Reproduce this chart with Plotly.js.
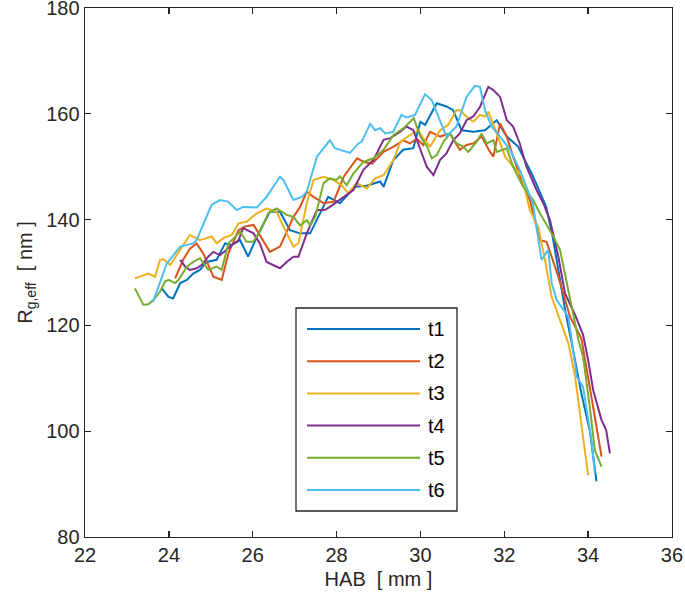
<!DOCTYPE html>
<html>
<head>
<meta charset="utf-8">
<script src="https://cdn.plot.ly/plotly-3.0.1.min.js"></script>
<style>html,body{margin:0;padding:0;background:#fff;}#chart{width:685px;height:605px;}</style>
</head>
<body>
<div id="chart"></div>
<script>
// ---- data (HAB in mm, R_g,eff in nm) ----
const seriesNames = ["t1", "t2", "t3", "t4", "t5", "t6"];
const seriesColors = ["#0072BD", "#D95319", "#EDB120", "#7E2F8E", "#77AC30", "#4DBEEE"];

const t1_x = [23.83,23.99,24.1,24.27,24.43,24.58,24.74,24.9,25.14,25.34,25.5,25.7,25.89,26.1,26.41,26.65,26.89,27.13,27.37,27.6,27.8,28.08,28.44,28.72,29.04,29.12,29.35,29.59,29.83,30.0,30.11,30.39,30.62,30.78,30.98,31.26,31.54,31.82,32.06,32.33,32.69,33.0,33.15,33.3,33.45,33.65,33.84,34.04,34.2];
const t1_y = [127.0,125.4,125.1,128.0,128.6,129.8,130.5,132.0,132.4,135.5,135.2,136.1,133.0,136.8,141.5,141.5,138.0,137.4,137.4,141.2,144.3,143.1,146.2,146.4,147.2,146.2,151.2,153.2,153.5,158.5,157.9,162.0,161.4,160.7,156.9,156.6,156.9,158.8,155.7,153.8,148.1,142.4,137.0,130.0,123.0,115.0,107.1,100.1,90.5];

const t2_x = [24.15,24.34,24.5,24.66,24.82,25.06,25.26,25.42,25.66,25.82,26.02,26.21,26.41,26.65,26.97,27.13,27.29,27.45,27.69,27.93,28.17,28.49,28.65,28.85,29.12,29.36,29.59,29.75,29.91,30.07,30.23,30.47,30.7,30.94,31.1,31.26,31.46,31.66,31.74,31.9,32.06,32.21,32.41,32.61,32.85,33.01,33.29,33.57,33.84,34.12,34.32];
const t2_y = [128.9,132.4,134.5,135.5,133.6,129.2,128.6,133.6,138.0,138.7,139.0,136.5,133.9,134.9,140.5,142.4,145.3,144.3,143.1,143.4,148.1,151.6,150.9,150.6,152.8,153.8,155.0,154.4,155.3,154.1,156.6,155.7,156.3,153.2,154.1,154.4,155.7,152.8,151.9,158.2,155.7,151.9,147.5,143.7,136.1,135.8,129.2,121.6,117.5,104.6,95.2];

const t3_x = [23.19,23.51,23.67,23.79,23.87,24.03,24.27,24.5,24.74,25.02,25.14,25.3,25.5,25.66,25.85,26.1,26.33,26.57,26.73,26.97,27.09,27.29,27.45,27.69,27.92,28.12,28.28,28.48,28.72,28.92,29.12,29.36,29.52,29.75,29.95,30.07,30.23,30.47,30.66,30.86,30.94,31.1,31.26,31.42,31.54,31.62,31.82,32.02,32.21,32.41,32.61,32.81,32.97,33.13,33.33,33.53,33.69,33.81,34.0];
const t3_y = [128.9,129.8,129.2,132.4,132.5,131.4,134.3,137.1,136.1,136.8,135.5,136.5,137.1,139.3,139.6,141.2,142.1,141.5,138.7,134.9,135.5,143.1,147.5,148.1,147.5,146.5,145.0,146.9,145.9,147.8,148.4,151.3,154.7,156.0,156.9,155.3,153.8,156.9,157.9,160.7,160.7,159.5,158.5,159.8,159.5,160.4,156.3,151.9,150.0,148.4,141.8,138.7,132.4,125.4,121.0,116.6,110.3,103.4,91.7];

const t4_x = [24.27,24.39,24.5,24.66,24.78,24.94,25.06,25.22,25.38,25.5,25.66,25.77,26.02,26.17,26.33,26.49,26.65,26.81,26.97,27.09,27.29,27.53,27.72,27.84,28.16,28.4,28.64,28.88,29.12,29.28,29.52,29.67,29.83,30.0,30.15,30.31,30.47,30.62,30.78,30.94,31.1,31.26,31.42,31.62,31.74,31.9,32.06,32.21,32.37,32.53,32.77,32.93,33.09,33.29,33.45,33.69,33.88,34.0,34.12,34.32,34.43,34.52];
const t4_y = [132.4,131.1,130.5,130.8,131.4,133.0,133.9,133.3,134.3,135.2,136.1,138.4,137.4,135.5,132.0,131.4,130.8,132.0,133.0,133.0,137.4,141.8,141.8,142.4,144.3,145.6,149.4,151.3,155.1,155.4,156.6,157.6,156.9,153.2,150.0,148.4,151.3,152.5,155.0,156.3,158.8,159.5,161.3,165.1,164.5,163.2,158.8,157.6,154.4,150.0,145.6,143.1,139.9,133.0,126.0,122.0,118.2,113.5,107.8,102.1,100.2,95.8];

const t5_x = [23.19,23.39,23.51,23.63,23.79,23.91,23.99,24.15,24.23,24.43,24.58,24.74,24.94,25.14,25.26,25.42,25.7,25.85,26.01,26.17,26.37,26.57,26.81,26.97,27.13,27.29,27.37,27.49,27.69,27.84,28.0,28.08,28.24,28.4,28.64,28.88,29.12,29.36,29.6,29.84,30.0,30.16,30.27,30.39,30.55,30.71,30.86,31.02,31.14,31.34,31.46,31.58,31.74,31.82,32.06,32.21,32.45,32.69,32.85,33.13,33.33,33.49,33.77,33.88,34.04,34.16,34.32];
const t5_y = [127.0,123.9,124.0,124.8,126.4,128.3,128.6,128.0,128.6,131.1,132.0,132.7,130.5,131.1,130.5,135.5,137.7,135.8,135.8,137.7,141.2,142.1,140.9,140.5,138.9,139.9,138.9,140.5,146.9,147.8,147.5,148.2,146.5,148.7,150.9,151.6,153.2,156.0,157.3,159.2,155.7,153.8,151.6,152.2,154.7,156.3,154.4,153.8,152.8,154.7,156.3,154.4,155.0,152.8,153.5,150.0,146.2,143.7,141.2,137.4,134.3,128.0,117.2,114.1,104.6,96.4,93.3];

const t6_x = [23.62,23.95,24.27,24.58,24.66,25.02,25.22,25.41,25.62,25.77,26.1,26.33,26.65,26.73,26.97,27.17,27.29,27.53,27.84,27.96,28.32,28.52,28.6,28.8,28.92,29.04,29.16,29.35,29.55,29.67,29.87,30.11,30.27,30.62,30.86,31.1,31.3,31.42,31.54,31.7,31.9,32.14,32.37,32.68,32.89,33.05,33.13,33.25,33.53,33.73,33.88,34.08,34.16];
const t6_y = [124.4,131.7,134.9,135.5,136.1,142.8,143.7,143.4,141.8,142.4,142.3,144.3,148.1,147.5,143.7,144.3,145.3,151.9,155.0,153.5,152.6,154.4,154.7,158.1,156.9,157.3,156.3,156.6,159.8,159.3,159.8,163.7,162.6,155.7,157.6,163.2,165.3,165.1,160.7,157.6,155.7,153.2,149.4,143.1,132.4,134.3,128.0,124.8,121.6,110.3,108.4,98.3,92.0];

const xTicks = [22, 24, 26, 28, 30, 32, 34, 36];
const yTicks = [80, 100, 120, 140, 160, 180];

const seriesX = [t1_x, t2_x, t3_x, t4_x, t5_x, t6_x];
const seriesY = [t1_y, t2_y, t3_y, t4_y, t5_y, t6_y];

// ---- figure ----
const FONT = "Liberation Sans, Arial, Helvetica, sans-serif";
const AX = "#262626";
const W = 685, H = 605;
const M = {l: 85, r: 13, t: 8, b: 68};
const PW = W - M.l - M.r, PH = H - M.t - M.b;
const px2x = p => (p - M.l) / PW;
const px2y = p => (H - M.b - p) / PH;

const traces = seriesNames.map((n, i) => ({
  type: "scatter", mode: "lines", name: n,
  x: seriesX[i], y: seriesY[i],
  line: {color: seriesColors[i], width: 2},
  showlegend: false
}));

// hand-built MATLAB-style legend box
const shapes = [{
  type: "rect", xref: "paper", yref: "paper",
  x0: px2x(296), x1: px2x(457), y0: px2y(511), y1: px2y(308),
  line: {color: AX, width: 1.3}, fillcolor: "#ffffff", layer: "above"
}];
const annotations = [];
seriesNames.forEach((n, i) => {
  const rowPx = 329 + i * 32.2;
  shapes.push({
    type: "line", xref: "paper", yref: "paper",
    x0: px2x(307), x1: px2x(420), y0: px2y(rowPx), y1: px2y(rowPx),
    line: {color: seriesColors[i], width: 2}, layer: "above"
  });
  annotations.push({
    xref: "paper", yref: "paper", x: px2x(426), y: px2y(rowPx),
    xanchor: "left", yanchor: "middle", showarrow: false,
    text: n, font: {family: FONT, size: 20, color: "#000"}
  });
});

const axisCommon = {
  showgrid: false, zeroline: false, showline: true, mirror: "ticks",
  linecolor: AX, linewidth: 1.4, ticks: "inside", ticklen: 6, tickwidth: 1.3,
  tickcolor: AX, tickfont: {family: FONT, size: 20, color: AX},
  ticklabeloverflow: "allow"
};

const layout = {
  width: W, height: H,
  margin: M,
  paper_bgcolor: "#ffffff", plot_bgcolor: "#ffffff",
  font: {family: FONT, color: AX},
  xaxis: Object.assign({}, axisCommon, {
    range: [21.999, 36.001], tickvals: xTicks, ticktext: xTicks.map(String),
    title: {text: "HAB\u00a0\u00a0[ mm ]", font: {family: FONT, size: 20, color: AX}, standoff: 6}
  }),
  yaxis: Object.assign({}, axisCommon, {
    range: [79.99, 180.01], tickvals: yTicks, ticktext: yTicks.map(String),
    title: {text: "R<sub>g,eff</sub>\u00a0\u00a0[ nm ]", font: {family: FONT, size: 20, color: AX}, standoff: 8}
  }),
  shapes: shapes,
  annotations: annotations,
  showlegend: false
};

Plotly.newPlot("chart", traces, layout, {displayModeBar: false, staticPlot: true});
</script>
</body>
</html>
